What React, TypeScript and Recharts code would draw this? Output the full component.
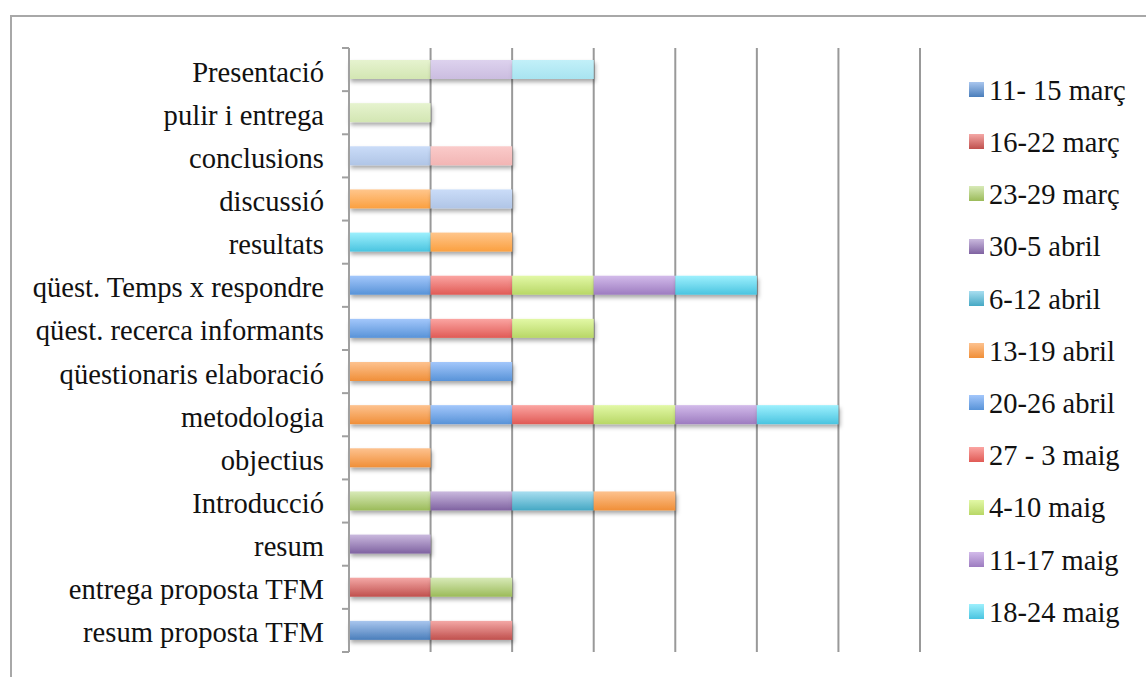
import { Bar, BarChart, CartesianGrid, Legend, XAxis, YAxis } from "recharts";

const tasks = [
  "Presentació",
  "pulir i entrega",
  "conclusions",
  "discussió",
  "resultats",
  "qüest. Temps x respondre",
  "qüest. recerca informants",
  "qüestionaris elaboració",
  "metodologia",
  "objectius",
  "Introducció",
  "resum",
  "entrega proposta TFM",
  "resum proposta TFM",
];

// weeks shown in the legend
const weeks = [
  "11- 15 març",
  "16-22 març",
  "23-29 març",
  "30-5 abril",
  "6-12 abril",
  "13-19 abril",
  "20-26 abril",
  "27 - 3 maig",
  "4-10 maig",
  "11-17 maig",
  "18-24 maig",
];
// series beyond the legend (cut off in the original)
const hiddenWeeks = ["sèrie 12", "sèrie 13", "sèrie 14", "sèrie 15", "sèrie 16", "sèrie 17"];
const seriesNames = [...weeks, ...hiddenWeeks];

// one row per series, one value per task (top to bottom)
const seriesValues: number[][] = [
  [0, 0, 0, 0, 0, 0, 0, 0, 0, 0, 0, 0, 0, 1],
  [0, 0, 0, 0, 0, 0, 0, 0, 0, 0, 0, 0, 1, 1],
  [0, 0, 0, 0, 0, 0, 0, 0, 0, 0, 1, 0, 1, 0],
  [0, 0, 0, 0, 0, 0, 0, 0, 0, 0, 1, 1, 0, 0],
  [0, 0, 0, 0, 0, 0, 0, 0, 0, 0, 1, 0, 0, 0],
  [0, 0, 0, 0, 0, 0, 0, 1, 1, 1, 1, 0, 0, 0],
  [0, 0, 0, 0, 0, 1, 1, 1, 1, 0, 0, 0, 0, 0],
  [0, 0, 0, 0, 0, 1, 1, 0, 1, 0, 0, 0, 0, 0],
  [0, 0, 0, 0, 0, 1, 1, 0, 1, 0, 0, 0, 0, 0],
  [0, 0, 0, 0, 0, 1, 0, 0, 1, 0, 0, 0, 0, 0],
  [0, 0, 0, 0, 1, 1, 0, 0, 1, 0, 0, 0, 0, 0],
  [0, 0, 0, 1, 1, 0, 0, 0, 0, 0, 0, 0, 0, 0],
  [0, 0, 1, 1, 0, 0, 0, 0, 0, 0, 0, 0, 0, 0],
  [0, 0, 1, 0, 0, 0, 0, 0, 0, 0, 0, 0, 0, 0],
  [1, 1, 0, 0, 0, 0, 0, 0, 0, 0, 0, 0, 0, 0],
  [1, 0, 0, 0, 0, 0, 0, 0, 0, 0, 0, 0, 0, 0],
  [1, 0, 0, 0, 0, 0, 0, 0, 0, 0, 0, 0, 0, 0],
];

const xTicks = [0, 1, 2, 3, 4, 5, 6, 7];

const topColors = [
  "#a9c6ee", "#f4a8a6", "#d8eab8", "#cab9de", "#a8def0", "#fdc28f",
  "#a3c7fb", "#fba5a2", "#e2f8a6", "#d2baea", "#9df0fd",
  "#ffc68c", "#cadcf8", "#facbca", "#e6f3cf", "#ddd2ee", "#c2f0f9",
];
const bottomColors = [
  "#4a7ebb", "#c0504d", "#9bbb59", "#7f62a1", "#45a8c4", "#f08f38",
  "#5893d8", "#e05a55", "#b8d766", "#9d7cc0", "#4ac4e0",
  "#fba040", "#b0c5e6", "#f2b5b4", "#d3e6b3", "#cbbde0", "#a8e4f0",
];

const data = tasks.map((task, i) => {
  const row: Record<string, string | number> = { task };
  seriesNames.forEach((_, s) => {
    row["s" + s] = seriesValues[s][i];
  });
  return row;
});

const FONT = "'Liberation Serif', 'Times New Roman', serif";
const AXIS_X = 349;
const PLOT_TOP = 48;
const PLOT_BOTTOM = 652;
const band = (PLOT_BOTTOM - PLOT_TOP) / tasks.length;

function TaskTick(props: any) {
  const { y, payload, index } = props;
  return (
    <g>
      <text x={AXIS_X - 25} y={y} dy="0.42em" textAnchor="end" fontSize={28.6} fontFamily={FONT} fill="#111">
        {payload.value}
      </text>
      <line x1={AXIS_X - 7} x2={AXIS_X} y1={y - band / 2} y2={y - band / 2} stroke="#a0a0a0" strokeWidth={2} />
      {index === tasks.length - 1 && (
        <line x1={AXIS_X - 7} x2={AXIS_X} y1={y + band / 2} y2={y + band / 2} stroke="#a0a0a0" strokeWidth={2} />
      )}
    </g>
  );
}

function Segment(props: any) {
  const { x, y, width, height, fill } = props;
  if (!width || width <= 0) return null;
  return <rect x={x} y={y} width={width} height={height} fill={fill} filter="url(#barShadow)" />;
}

function WeekLegend() {
  return (
    <div>
      {weeks.map((w, i) => (
        <div key={w} style={{ height: 52.2, display: "flex", alignItems: "center" }}>
          <span
            style={{
              width: 15,
              height: 15,
              marginRight: 5,
              marginTop: -3,
              background: `linear-gradient(${topColors[i]}, ${bottomColors[i]})`,
            }}
          />
          <span style={{ fontSize: 28.5, fontFamily: FONT, color: "#111", lineHeight: 1 }}>{w}</span>
        </div>
      ))}
    </div>
  );
}

// vertical grid lines through the x scale at each whole unit
function gridX({ xAxis, offset }: any) {
  if (xAxis && typeof xAxis.scale === "function") {
    return xTicks.map((t) => xAxis.scale(t));
  }
  return xTicks.map((t) => offset.left + (t / 7) * offset.width);
}

export default function App() {
  return (
    <div style={{ position: "fixed", left: 0, top: 0, width: 1146, height: 677, background: "#fff", overflow: "hidden" }}>
      <div
        style={{
          position: "absolute",
          left: 10,
          top: 15,
          width: 1300,
          height: 800,
          border: "2px solid #a8a8a8",
          boxSizing: "border-box",
        }}
      />
      <div style={{ position: "absolute", left: 0, top: 0 }}>
        <BarChart
          width={1146}
          height={677}
          data={data}
          layout="vertical"
          margin={{ top: PLOT_TOP, right: 49, bottom: 677 - PLOT_BOTTOM, left: 0 }}
        >
          <defs>
            {seriesNames.map((_, i) => (
              <linearGradient key={i} id={"g" + i} x1="0" y1="0" x2="0" y2="1">
                <stop offset="0%" stopColor={topColors[i]} />
                <stop offset="100%" stopColor={bottomColors[i]} />
              </linearGradient>
            ))}
            <filter id="barShadow" x="-10%" y="-40%" width="130%" height="200%">
              <feDropShadow dx="1.5" dy="3" stdDeviation="2" floodColor="#000" floodOpacity="0.35" />
            </filter>
          </defs>
          <CartesianGrid horizontal={false} stroke="#999" strokeWidth={2} verticalCoordinatesGenerator={gridX} />
          <XAxis
            type="number"
            domain={[0, 7]}
            ticks={xTicks}
            tick={() => <g />}
            tickLine={false}
            axisLine={false}
            height={0}
          />
          <YAxis
            type="category"
            dataKey="task"
            width={AXIS_X}
            tick={<TaskTick />}
            tickLine={false}
            axisLine={{ stroke: "#a0a0a0", strokeWidth: 2 }}
            interval={0}
          />
          <Legend
            layout="vertical"
            align="right"
            verticalAlign="top"
            content={<WeekLegend />}
            wrapperStyle={{ left: 969, top: 65, width: 177 }}
          />
          {seriesNames.map((name, i) => (
            <Bar
              key={name}
              dataKey={"s" + i}
              name={name}
              stackId="a"
              barSize={19}
              fill={`url(#g${i})`}
              shape={<Segment />}
              isAnimationActive={false}
            />
          ))}
        </BarChart>
      </div>
    </div>
  );
}
